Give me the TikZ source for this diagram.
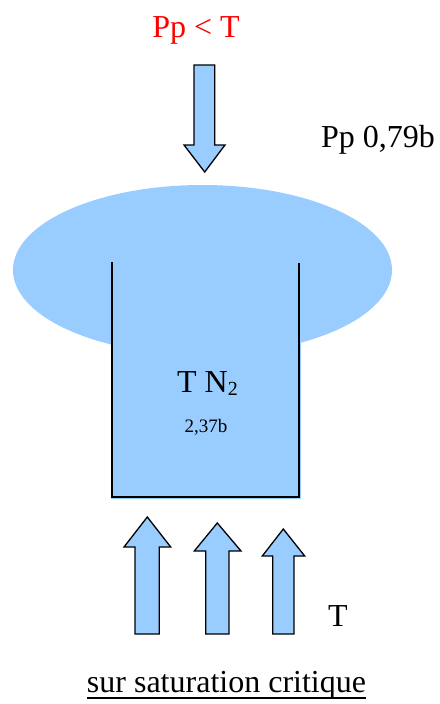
\documentclass[tikz,border=0pt]{standalone}
\usepackage{fontspec}
\setmainfont{Liberation Serif}
\definecolor{gasblue}{RGB}{153,204,255}
\tikzset{
  flowarrow/.style={fill=gasblue, draw=black, line width=1.3pt, line join=miter},
  label/.style={inner sep=0pt, anchor=base, font=\fontsize{32}{38}\selectfont},
  small/.style={inner sep=0pt, anchor=base, font=\fontsize{19}{22}\selectfont}
}
\begin{document}
\begin{tikzpicture}[x=1pt, y=-1pt]
  \useasboundingbox (0,0) rectangle (439,704);
  % atmosphere and tissue
  \fill[gasblue] (202.5,270) ellipse [x radius=189.5, y radius=85];
  \fill[gasblue] (110.5,262) rectangle (300.5,499);
  \draw[line width=1.5pt] (112,262) -- (112,497) -- (299,497) -- (299,263);

  % pressure from above
  \node[label, text=red] (ppT) at (196,37) {Pp < T};
  \draw[flowarrow] (194,65) -- (214.7,65) -- (214.7,145) -- (225,145) -- (204.7,172)
    -- (184,145) -- (194,145) -- cycle;
  \node[label] (ppair) at (378,147) {Pp 0,79b};

  % dissolved nitrogen
  \node[label] (tn2) at (207.5,392) {T N\raisebox{-0.25ex}{\fontsize{20}{22}\selectfont 2}};
  \node[small] (tval) at (206,432) {2,37b};

  % tension rising
  \draw[flowarrow] (135,634) -- (135,547) -- (124,547) -- (147.3,517) -- (170.7,547)
    -- (159.3,547) -- (159.3,634) -- cycle;
  \draw[flowarrow] (205.7,634) -- (205.7,551) -- (194.3,551) -- (217.3,523) -- (241,551)
    -- (229,551) -- (229,634) -- cycle;
  \draw[flowarrow] (272.7,634) -- (272.7,556) -- (262.3,556) -- (283.3,529) -- (304.7,556)
    -- (294,556) -- (294,634) -- cycle;
  \node[label] (tens) at (338,626) {T};

  \node[label] (caption) at (226.5,692) {sur saturation critique};
  \draw[line width=1.2pt] ([yshift=-6pt]caption.base west) -- ([yshift=-6pt]caption.base east);
\end{tikzpicture}
\end{document}
